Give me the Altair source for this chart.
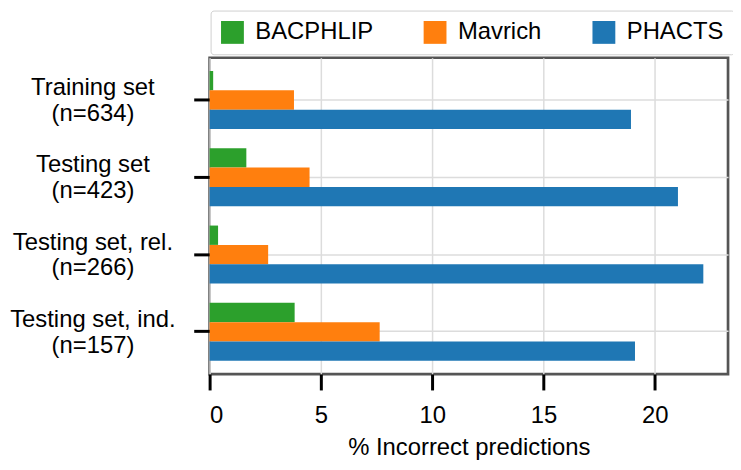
import altair as alt
import pandas as pd

categories = [
    "Training set\n(n=634)",
    "Testing set\n(n=423)",
    "Testing set, rel.\n(n=266)",
    "Testing set, ind.\n(n=157)",
]
series = ["BACPHLIP", "Mavrich", "PHACTS"]
colors = ["#2ca02c", "#ff7f0e", "#1f77b4"]
bacphlip = [0.16, 1.65, 0.38, 3.82]
mavrich = [3.79, 4.49, 2.63, 7.64]
phacts = [18.93, 21.04, 22.18, 19.11]
x_ticks = [0, 5, 10, 15, 20]
x_max = 23.29

rows = []
for s, vals in zip(series, [bacphlip, mavrich, phacts]):
    for c, v in zip(categories, vals):
        rows.append({"dataset": c, "tool": s, "value": v})
df = pd.DataFrame(rows)

FONT = "Liberation Sans"

chart = (
    alt.Chart(df)
    .mark_bar()
    .encode(
        x=alt.X(
            "value:Q",
            scale=alt.Scale(domain=[0, x_max], nice=False, zero=True),
            axis=alt.Axis(
                values=x_ticks,
                title="% Incorrect predictions",
                domain=False,
                grid=True,
                gridColor="#dcdcdc",
                gridWidth=1.5,
                tickSize=16,
                tickWidth=3,
                tickColor="#000000",
                labelFontSize=24,
                labelFont=FONT,
                labelColor="#000000",
                labelPadding=14,
                titleFontSize=24,
                titleFont=FONT,
                titleFontWeight="normal",
                titleColor="#000000",
                titlePadding=8,
            ),
        ),
        y=alt.Y(
            "dataset:N",
            sort=categories,
            scale=alt.Scale(paddingInner=0.25, paddingOuter=0.1715),
            axis=alt.Axis(
                title=None,
                domain=False,
                grid=True,
                gridColor="#dcdcdc",
                gridWidth=1.5,
                tickSize=16,
                tickWidth=3,
                tickColor="#000000",
                labelExpr="split(datum.label, '\\n')",
                labelAlign="center",
                labelBaseline="middle",
                labelLineHeight=26,
                labelOffset=-12,
                labelPadding=102,
                labelLimit=0,
                labelFontSize=24,
                labelFont=FONT,
                labelColor="#000000",
            ),
        ),
        yOffset=alt.YOffset(
            "tool:N", sort=series, scale=alt.Scale(paddingInner=0, paddingOuter=0)
        ),
        color=alt.Color(
            "tool:N",
            sort=series,
            scale=alt.Scale(domain=series, range=colors),
            legend=alt.Legend(
                orient="none",
                legendX=1,
                legendY=-47.5,
                direction="horizontal",
                title=None,
                symbolType="square",
                symbolSize=529,
                symbolStrokeWidth=0,
                symbolOpacity=1,
                labelFontSize=24,
                labelFont=FONT,
                labelColor="#000000",
                labelOffset=11,
                columnPadding=50,
                padding=10,
                strokeColor="#d0d0d0",
                fillColor="#ffffff",
                cornerRadius=3,
            ),
        ),
    )
    .properties(
        width=522,
        height=318.5,
        autosize=alt.AutoSizeParams(type="none"),
        padding={"left": 203, "top": 48.5, "right": 5, "bottom": 92},
    )
    .configure_view(stroke="#555555", strokeWidth=2.7)
)

chart.save("out.html", embed_options={"renderer": "svg", "actions": False})
